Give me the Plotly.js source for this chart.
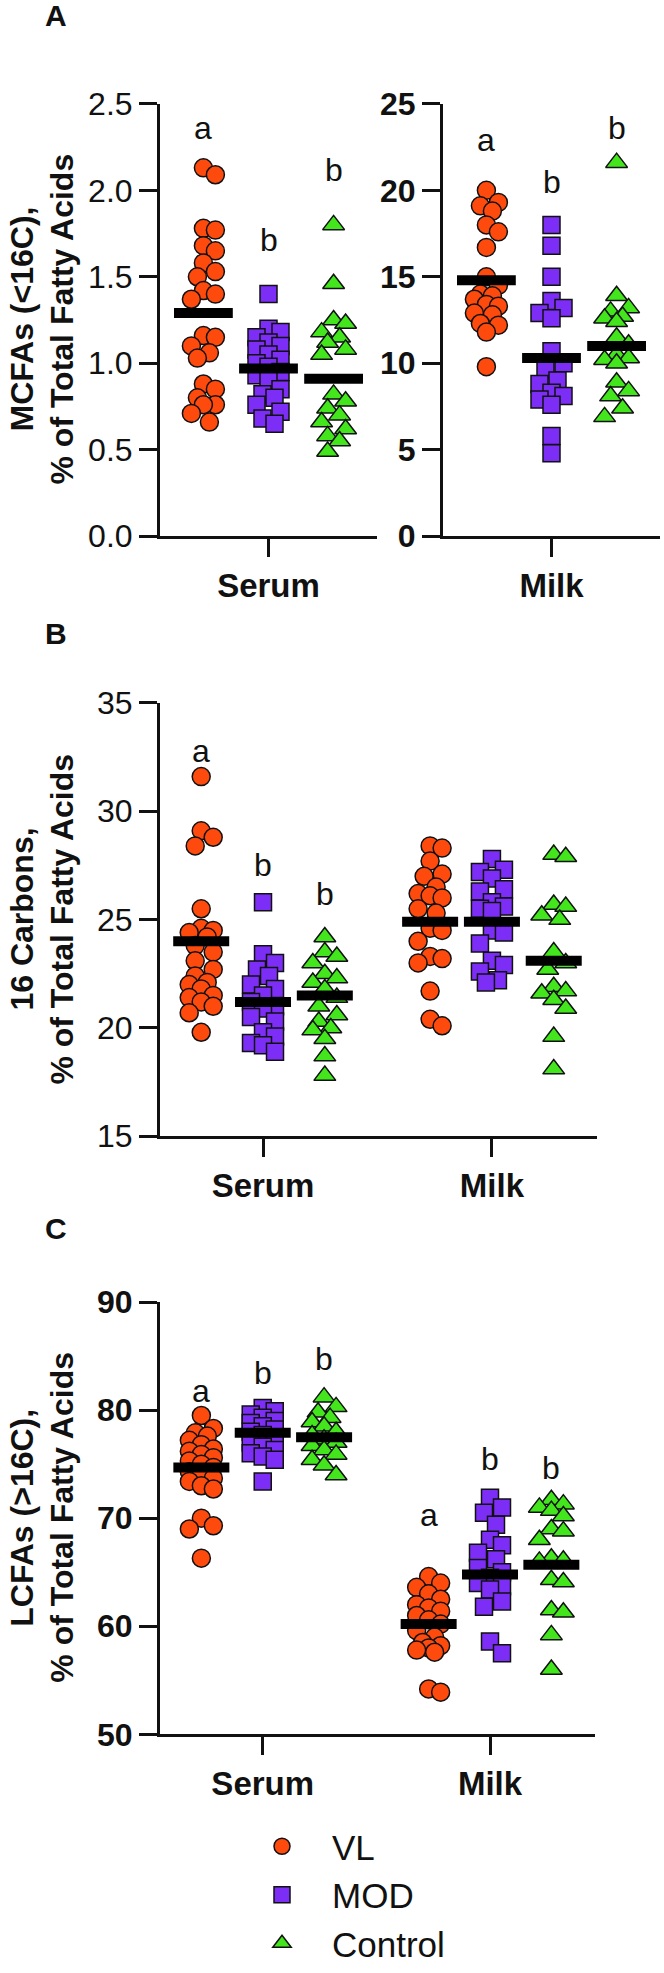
<!DOCTYPE html>
<html>
<head>
<meta charset="utf-8">
<script src="https://cdn.plot.ly/plotly-3.0.1.min.js"></script>
<style>html,body{margin:0;padding:0;background:#fff;}#chart{width:664px;height:1973px;}</style>
</head>
<body>
<div id="chart"></div>
<script>
// ---------------- DATA ----------------
const groupNames = ['VL', 'MOD', 'Control'];
const sampleTypes = ['Serum', 'Milk'];

// Panel A: MCFAs (<16C), % of total fatty acids
const mcfaSerumVL = [2.13, 2.09, 1.78, 1.77, 1.68, 1.65, 1.58, 1.53, 1.50, 1.42, 1.40, 1.37, 1.16, 1.15, 1.10, 1.06, 1.03, 0.88, 0.85, 0.80, 0.76, 0.76, 0.71, 0.66];
const mcfaSerumMOD = [1.40, 1.20, 1.18, 1.15, 1.12, 1.10, 1.08, 1.05, 1.02, 1.00, 0.98, 0.95, 0.93, 0.90, 0.85, 0.82, 0.80, 0.76, 0.72, 0.68, 0.65];
const mcfaSerumControl = [1.80, 1.46, 1.25, 1.23, 1.18, 1.15, 1.12, 1.08, 1.05, 0.82, 0.78, 0.74, 0.70, 0.66, 0.62, 0.58, 0.55, 0.49];
const mcfaMilkVL = [20.0, 19.3, 19.1, 18.8, 18.0, 17.6, 16.7, 15.0, 14.5, 14.0, 13.9, 13.7, 13.4, 13.3, 12.9, 12.8, 12.3, 12.2, 11.8, 9.8];
const mcfaMilkMOD = [18.0, 16.8, 15.0, 13.6, 13.2, 12.9, 12.6, 10.7, 10.0, 9.6, 9.0, 8.8, 8.3, 8.1, 7.9, 7.6, 5.8, 4.8];
const mcfaMilkControl = [21.6, 13.9, 13.2, 13.0, 12.7, 12.6, 12.4, 11.5, 11.1, 10.5, 10.3, 10.2, 10.0, 8.9, 8.4, 8.1, 7.4, 6.9];
const mcfaSerumMeans = [1.29, 0.97, 0.91];
const mcfaMilkMeans = [14.8, 10.3, 11.0];
const mcfaSerumLetters = ['a', 'b', 'b'];
const mcfaMilkLetters = ['a', 'b', 'b'];

// Panel B: 16 carbons, % of total fatty acids
const c16SerumVL = [31.6, 29.1, 28.8, 28.4, 25.5, 24.6, 24.5, 24.4, 24.2, 23.8, 23.5, 23.1, 22.7, 22.4, 22.1, 22.0, 21.8, 21.5, 21.4, 21.2, 21.0, 20.7, 19.8];
const c16SerumMOD = [25.8, 23.4, 23.0, 22.7, 22.4, 22.0, 21.8, 21.5, 21.2, 21.0, 20.9, 20.5, 20.3, 19.8, 19.6, 19.3, 19.2, 18.9];
const c16SerumControl = [24.2, 23.5, 23.3, 23.0, 22.5, 22.3, 22.1, 21.8, 21.4, 21.0, 20.6, 20.3, 20.0, 19.9, 19.5, 18.7, 17.8];
const c16MilkVL = [28.4, 28.3, 27.7, 27.1, 27.0, 26.5, 26.2, 26.1, 26.0, 25.5, 25.3, 24.6, 24.5, 24.0, 23.3, 23.2, 23.0, 21.7, 20.4, 20.1];
const c16MilkMOD = [27.8, 27.3, 27.2, 26.9, 26.4, 26.3, 25.8, 25.6, 25.5, 25.4, 24.5, 24.4, 23.9, 23.1, 22.9, 22.6, 22.2, 22.1];
const c16MilkControl = [28.0, 27.9, 25.7, 25.6, 25.2, 25.0, 23.5, 23.0, 22.7, 21.9, 21.7, 21.6, 21.3, 20.9, 19.6, 18.1];
const c16SerumMeans = [24.0, 21.2, 21.5];
const c16MilkMeans = [24.9, 24.9, 23.1];
const c16SerumLetters = ['a', 'b', 'b'];

// Panel C: LCFAs (>16C), % of total fatty acids
const lcfaSerumVL = [79.5, 78.3, 77.9, 77.6, 77.2, 76.8, 76.4, 76.2, 75.9, 75.6, 75.3, 75.0, 74.7, 74.3, 74.0, 73.7, 73.4, 73.0, 72.7, 70.0, 69.3, 69.0, 66.3];
const lcfaSerumMOD = [80.2, 79.9, 79.6, 79.3, 79.0, 78.8, 78.5, 78.2, 78.0, 77.7, 77.4, 77.0, 76.6, 76.3, 76.0, 75.7, 75.4, 73.4];
const lcfaSerumControl = [81.2, 80.3, 79.8, 79.3, 78.9, 78.5, 78.0, 77.7, 77.3, 77.0, 76.7, 76.3, 75.9, 75.4, 74.9, 74.0];
const lcfaMilkVL = [64.6, 64.0, 63.6, 63.0, 62.5, 62.0, 61.7, 61.4, 61.0, 60.6, 60.2, 59.6, 59.0, 58.5, 58.2, 58.0, 57.8, 57.6, 54.2, 53.9];
const lcfaMilkMOD = [71.9, 71.0, 70.5, 69.4, 68.0, 67.5, 66.8, 66.2, 65.4, 65.0, 64.5, 64.0, 63.7, 63.4, 62.3, 61.8, 58.6, 57.5];
const lcfaMilkControl = [71.7, 71.3, 71.0, 70.7, 70.2, 69.0, 68.8, 68.0, 66.3, 66.1, 66.0, 64.3, 64.1, 61.5, 61.3, 59.2, 56.0];
const lcfaSerumMeans = [74.7, 77.9, 77.5];
const lcfaMilkMeans = [60.2, 64.8, 65.7];
const lcfaSerumLetters = ['a', 'b', 'b'];
const lcfaMilkLetters = ['a', 'b', 'b'];

// ---------------- STYLE / LAYOUT ----------------
const W = 664, H = 1973;
const FONT = 'Liberation Sans, Arial, sans-serif';
const colors = ['#FF4A0E', '#7D2EF6', '#43E61C'];
const symbols = ['circle', 'square', 'triangle-up'];
const msize = [18, 17, 19];

function xd(a, b) { return [a / W, b / W]; }
function yd(top, bottom) { return [1 - bottom / H, 1 - top / H]; }

function baseX(dom, range, tickvals, ticktext) {
  return {
    domain: dom, range: range, tickvals: tickvals, ticktext: ticktext,
    showline: true, linewidth: 3, linecolor: '#111', ticks: 'outside', ticklen: 18, tickwidth: 3, tickcolor: '#111',
    showgrid: false, zeroline: false, fixedrange: true,
    tickfont: {family: FONT, size: 33, color: '#111', weight: 'bold'}
  };
}
function baseY(dom, range, dtick, fmt, bold) {
  return {
    domain: dom, range: range, dtick: dtick, tick0: range[0], tickformat: fmt,
    showline: true, linewidth: 3, linecolor: '#111', ticks: 'outside', ticklen: 18, tickwidth: 3, tickcolor: '#111',
    showgrid: false, zeroline: false, fixedrange: true,
    tickfont: {family: FONT, size: 32, color: '#111', weight: bold ? 'bold' : 'normal'}
  };
}

const layout = {
  width: W, height: H,
  margin: {l: 0, r: 0, t: 0, b: 0},
  paper_bgcolor: '#fff', plot_bgcolor: '#fff',
  font: {family: FONT, color: '#111'},
  xaxis: baseX(xd(160, 377), [0.5, 1.5], [1], [sampleTypes[0]]),
  yaxis: baseY(yd(104, 537), [0, 2.5], 0.5, '.1f', false),
  xaxis2: baseX(xd(443, 660), [0.5, 1.5], [1], [sampleTypes[1]]),
  yaxis2: baseY(yd(104, 537), [0, 25], 5, 'd', true),
  xaxis3: baseX(xd(160, 597), [0.55, 2.459], [1, 2], sampleTypes),
  yaxis3: baseY(yd(704, 1138), [15, 35], 5, 'd', false),
  xaxis4: baseX(xd(160, 595), [0.548, 2.462], [1, 2], sampleTypes),
  yaxis4: baseY(yd(1304, 1737), [50, 90], 10, 'd', true),
  showlegend: true,
  legend: {
    x: 232 / W, y: 1 - 1820 / H, xanchor: 'left', yanchor: 'top',
    font: {family: FONT, size: 35, color: '#111'},
    itemwidth: 90, tracegroupgap: 14, bgcolor: 'rgba(0,0,0,0)', traceorder: 'normal'
  },
  annotations: []
};
layout.yaxis2.anchor = 'x2'; layout.xaxis2.anchor = 'y2';
layout.yaxis3.anchor = 'x3'; layout.xaxis3.anchor = 'y3';
layout.yaxis4.anchor = 'x4'; layout.xaxis4.anchor = 'y4';
layout.yaxis.anchor = 'x'; layout.xaxis.anchor = 'y';

// subplot definitions (which data goes where)
const subplots = [
  {xa: 'x', ya: 'y', off: 0.30, cats: [
    {x: 1, series: [mcfaSerumVL, mcfaSerumMOD, mcfaSerumControl], means: mcfaSerumMeans, letters: mcfaSerumLetters, letterY: [2.36, 1.71, 2.12]}
  ]},
  {xa: 'x2', ya: 'y2', off: 0.30, cats: [
    {x: 1, series: [mcfaMilkVL, mcfaMilkMOD, mcfaMilkControl], means: mcfaMilkMeans, letters: mcfaMilkLetters, letterY: [22.9, 20.5, 23.6]}
  ]},
  {xa: 'x3', ya: 'y3', off: 0.27, cats: [
    {x: 1, series: [c16SerumVL, c16SerumMOD, c16SerumControl], means: c16SerumMeans, letters: c16SerumLetters, letterY: [32.8, 27.5, 26.2]},
    {x: 2, series: [c16MilkVL, c16MilkMOD, c16MilkControl], means: c16MilkMeans, letters: null}
  ]},
  {xa: 'x4', ya: 'y4', off: 0.27, cats: [
    {x: 1, series: [lcfaSerumVL, lcfaSerumMOD, lcfaSerumControl], means: lcfaSerumMeans, letters: lcfaSerumLetters, letterY: [81.8, 83.4, 84.7]},
    {x: 2, series: [lcfaMilkVL, lcfaMilkMOD, lcfaMilkControl], means: lcfaMilkMeans, letters: lcfaMilkLetters, letterY: [70.3, 75.5, 74.6]}
  ]}
];

function axKey(a) { return a.length === 1 ? a + 'axis' : a[0] + 'axis' + a.slice(1); }

// simple beeswarm: horizontal offsets (px) so markers overlap little
function swarm(vals, pxPerUnit, diam, step, maxOff) {
  const placed = [];
  const cands = [0];
  for (let k = step; k <= maxOff + 1e-9; k += step) cands.push(k, -k);
  return vals.map(v => {
    const y = v * pxPerUnit;
    let best = 0, bestD = -1;
    for (const c of cands) {
      let minD = Infinity;
      for (const p of placed) { const d = Math.hypot(c - p.x, y - p.y); if (d < minD) minD = d; }
      if (minD >= diam) { best = c; bestD = minD; break; }
      if (minD > bestD) { bestD = minD; best = c; }
    }
    placed.push({x: best, y: y});
    return best;
  });
}

const traces = [];
const meanTraces = [];
subplots.forEach((sp, si) => {
  const xa = layout[axKey(sp.xa)], ya = layout[axKey(sp.ya)];
  const xPx = (xa.domain[1] - xa.domain[0]) * W / (xa.range[1] - xa.range[0]);
  const yPx = (ya.domain[1] - ya.domain[0]) * H / (ya.range[1] - ya.range[0]);
  const barLen = si < 2 ? 42 : 40;
  sp.cats.forEach((cat, ci) => {
    const mx = [], my = [];
    cat.series.forEach((vals, gi) => {
      const gx = cat.x + (gi - 1) * sp.off;
      const offs = swarm(vals, yPx, 15, 6, 15);
      traces.push({
        type: 'scatter', mode: 'markers', xaxis: sp.xa, yaxis: sp.ya,
        x: offs.map(o => gx + o / xPx), y: vals,
        name: groupNames[gi], legendgroup: groupNames[gi],
        showlegend: si === 0,
        marker: {symbol: symbols[gi], size: msize[gi], color: colors[gi], line: {color: '#111', width: 1.5}},
        hoverinfo: 'y'
      });
      mx.push(gx); my.push(cat.means[gi]);
      if (cat.letters) {
        layout.annotations.push({
          xref: sp.xa, yref: sp.ya, x: gx, y: cat.letterY[gi], text: cat.letters[gi],
          showarrow: false, font: {family: FONT, size: 32, color: '#111'}, xanchor: 'center', yanchor: 'middle'
        });
      }
    });
    meanTraces.push({
      type: 'scatter', mode: 'markers', xaxis: sp.xa, yaxis: sp.ya, x: mx, y: my, showlegend: false,
      marker: {symbol: 'line-ew', size: barLen, color: '#000', line: {color: '#000', width: 10}},
      hoverinfo: 'y'
    });
  });
});

// axis titles (rotated, two separate lines) and panel letters
const yTitles = [
  {l1: 'MCFAs (&lt;16C),', yc: 320},
  {l1: '16 Carbons,', yc: 921},
  {l1: 'LCFAs (&gt;16C),', yc: 1520}
];
const yTitleLine2 = '% of Total Fatty Acids';
yTitles.forEach(t => {
  [[t.l1, 22], [yTitleLine2, 62]].forEach(l => layout.annotations.push({
    xref: 'paper', yref: 'paper', x: l[1] / W, y: 1 - t.yc / H, text: '<b>' + l[0] + '</b>', textangle: -90,
    showarrow: false, xanchor: 'center', yanchor: 'middle', font: {family: FONT, size: 32, color: '#111'}
  }));
});
[['A', 16], ['B', 634], ['C', 1230]].forEach(p => layout.annotations.push({
  xref: 'paper', yref: 'paper', x: 43 / W, y: 1 - p[1] / H, text: '<b>' + p[0] + '</b>',
  showarrow: false, xanchor: 'left', yanchor: 'middle', font: {family: FONT, size: 30, color: '#111'}
}));

Plotly.newPlot('chart', traces.concat(meanTraces), layout, {staticPlot: true, displayModeBar: false});
</script>
</body>
</html>
